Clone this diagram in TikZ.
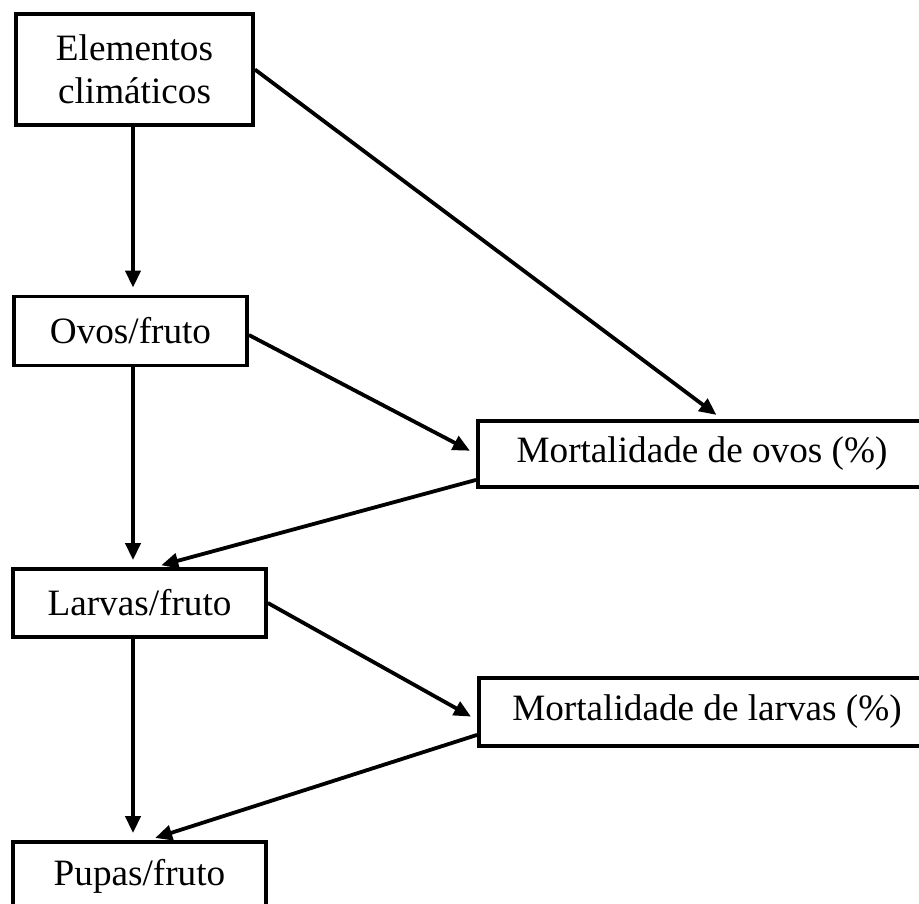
\documentclass[tikz,border=0pt]{standalone}
\usepackage{fontspec}
\setmainfont{Liberation Serif}
\usetikzlibrary{
  calc,
  arrows.meta
}

\begin{document}
\begin{tikzpicture}[
  x=0.5pt, y=-0.5pt,
  line width=1.9pt,
  box/.style={draw, inner sep=0pt, align=center, font=\fontsize{18.6}{21.5}\selectfont},
  flow/.style={-{Triangle[length=8.5pt,width=7.5pt]}, shorten >=3.5pt},
]
\useasboundingbox (0,0) rectangle (919,903);
\node[box, minimum width=118.5pt, minimum height=55.5pt] (elem) at (134.5,69.5) {Elementos\\climáticos};
\node[box, minimum width=116.5pt, minimum height=34.5pt] (ovos) at (130.5,331) {Ovos/fruto};
\node[box, minimum width=224pt, minimum height=33pt] (mortOvos) at (702,454) {Mortalidade de ovos (\%)};
\node[box, minimum width=126.5pt, minimum height=34pt] (larvas) at (139.5,603) {Larvas/fruto};
\node[box, minimum width=228pt, minimum height=34pt] (mortLarvas) at (707,712) {Mortalidade de larvas (\%)};
\node[box, minimum width=126.5pt, minimum height=34pt] (pupas) at (139.5,876) {Pupas/fruto};
\coordinate (axis) at (133,0);
\draw[flow] (elem.south -| axis) -- (ovos.north -| axis);
\draw[flow] (ovos.south -| axis) -- (larvas.north -| axis);
\draw[flow] (larvas.south -| axis) -- (pupas.north -| axis);
\draw[flow] (elem.east) -- ($(mortOvos.north)+(20,0)$);
\draw[flow] ($(ovos.east)+(0,4)$) -- (mortOvos.west);
\draw[flow] ($(mortOvos.south west)+(0,-9)$) -- ($(larvas.north)+(15,0)$);
\draw[flow] (larvas.east) -- ($(mortLarvas.west)+(0,8)$);
\draw[flow] ($(mortLarvas.south west)+(0,-13)$) -- ($(pupas.north)+(9,0)$);
\end{tikzpicture}
\end{document}
